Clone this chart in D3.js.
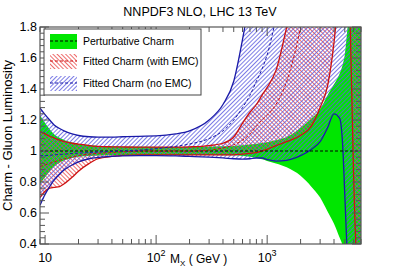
<!DOCTYPE html>
<html>
<head>
<style>
body { margin: 0; background: #fff; }
text { font-family: "Liberation Sans", Arial, sans-serif; fill: #000; }
.frame { fill: none; stroke: #555; stroke-width: 1.2px; }
.tick line { stroke: #555; stroke-width: 1px; }
</style>
<script src="https://d3js.org/d3.v7.min.js"></script>
</head>
<body>
<script>
// mass grid (GeV) and band values
var mass   = [9, 10, 11, 12, 13.5, 15, 17.5, 20, 25, 30, 40, 50, 70, 100, 150, 200, 300, 400, 500, 600, 700, 800, 900, 1000, 1200, 1500, 2000, 2500, 3000, 3500, 4000, 4500, 4800, 5000, 5300, 5600, 6000, 6500, 7000];
var pertLo = [0.79, 0.83, 0.87, 0.90, 0.925, 0.94, 0.955, 0.963, 0.968, 0.971, 0.973, 0.974, 0.974, 0.975, 0.975, 0.975, 0.974, 0.973, 0.972, 0.968, 0.963, 0.955, 0.946, 0.936, 0.92, 0.895, 0.84, 0.77, 0.70, 0.61, 0.53, 0.44, 0.39, 0.35, 0.3, 0.25, 0.2, 0.15, 0.1];
var pertCv = [1, 1, 1, 1, 1, 1, 1, 1, 1, 1, 1, 1, 1, 1, 1, 1, 1, 1, 1, 1, 1, 1, 1, 1, 1, 1, 1, 1, 1, 1, 1, 1, 1, 1, 1, 1, 1, 1, 1];
var pertHi = [1.23, 1.18, 1.14, 1.11, 1.085, 1.07, 1.055, 1.045, 1.038, 1.033, 1.03, 1.028, 1.027, 1.026, 1.026, 1.026, 1.027, 1.03, 1.033, 1.037, 1.042, 1.047, 1.052, 1.057, 1.07, 1.09, 1.15, 1.21, 1.27, 1.36, 1.43, 1.5, 1.56, 1.62, 1.8, 2.0, 2.2, 2.4, 2.6];

var emcLo  = [0.70, 0.74, 0.76, 0.765, 0.77, 0.79, 0.83, 0.87, 0.92, 0.95, 0.965, 0.972, 0.975, 0.975, 0.975, 0.975, 0.975, 0.975, 0.975, 0.98, 0.985, 0.99, 1.0, 1.01, 1.035, 1.06, 1.1, 1.16, 1.28, 1.42, 1.7, 2.1, 2.3, 2.4, 2.2, 1.8, 0.85, 0.2, 0.1];
var emcCv  = [0.9, 0.91, 0.92, 0.93, 0.94, 0.95, 0.96, 0.97, 0.98, 0.985, 0.99, 0.995, 1.0, 1.0, 1.0, 1.0, 1.005, 1.02, 1.04, 1.07, 1.11, 1.16, 1.2, 1.23, 1.3, 1.45, 1.8, 2.2, 2.6, 3, 3, 3, 3, 3, 3, 3, 3, 3, 3];
var emcHi  = [1.125, 1.11, 1.095, 1.085, 1.07, 1.06, 1.05, 1.045, 1.035, 1.03, 1.027, 1.026, 1.025, 1.025, 1.025, 1.027, 1.035, 1.05, 1.09, 1.18, 1.25, 1.3, 1.36, 1.41, 1.52, 1.8, 2.2, 2.6, 3, 3, 3, 3, 3, 3, 3, 3, 3, 3, 3];

var noemcLo = [0.65, 0.72, 0.77, 0.81, 0.85, 0.88, 0.91, 0.93, 0.95, 0.958, 0.965, 0.968, 0.97, 0.97, 0.968, 0.965, 0.96, 0.955, 0.95, 0.948, 0.95, 0.955, 0.955, 0.945, 0.935, 0.94, 0.97, 1.01, 1.06, 1.15, 1.24, 1.21, 1.02, 0.72, 0.3, 0.1, 0.1, 0.1, 0.1];
var noemcCv = [0.97, 0.97, 0.972, 0.975, 0.978, 0.98, 0.984, 0.986, 0.99, 0.993, 0.997, 1.0, 1.005, 1.015, 1.03, 1.045, 1.08, 1.13, 1.2, 1.28, 1.36, 1.45, 1.53, 1.62, 1.85, 2.1, 2.5, 3, 3, 3, 3, 3, 3, 3, 3, 3, 3, 3, 3];
var noemcHi = [1.277, 1.235, 1.2, 1.17, 1.145, 1.128, 1.11, 1.1, 1.092, 1.09, 1.09, 1.092, 1.095, 1.097, 1.11, 1.13, 1.2, 1.3, 1.45, 1.72, 2.0, 2.3, 2.6, 2.9, 3, 3, 3, 3, 3, 3, 3, 3, 3, 3, 3, 3, 3, 3, 3];

var yTicks = [0.4, 0.6, 0.8, 1, 1.2, 1.4, 1.6, 1.8];
var xMajor = [10, 100, 1000];
var legendLabels = ["Perturbative Charm", "Fitted Charm (with EMC)", "Fitted Charm (no EMC)"];

var W = 401, H = 272;
var margin = {top: 27, right: 40, bottom: 28, left: 40};
var width = W - margin.left - margin.right,
    height = H - margin.top - margin.bottom;

var x = d3.scaleLog().domain([9, 7000]).range([0, width]);
var y = d3.scaleLinear().domain([0.4, 1.8]).range([height, 0]);

var svg = d3.select("body").append("svg")
    .attr("width", W)
    .attr("height", H);

var defs = svg.append("defs");
defs.append("clipPath").attr("id", "clip")
  .append("rect").attr("width", width).attr("height", height);

function hatch(id, color, angle) {
  var p = defs.append("pattern")
      .attr("id", id)
      .attr("patternUnits", "userSpaceOnUse")
      .attr("width", 3).attr("height", 3)
      .attr("patternTransform", "rotate(" + angle + ")");
  p.append("line")
      .attr("x1", 0.5).attr("y1", 0).attr("x2", 0.5).attr("y2", 3)
      .attr("stroke", color).attr("stroke-width", 0.8);
}
hatch("hatchRed", "#ea4848", -45);
hatch("hatchBlue", "#5c5ce0", 45);

var g = svg.append("g")
    .attr("transform", "translate(" + margin.left + "," + margin.top + ")");

function band(lo, cv, hi) {
  return mass.map(function(m, i) { return {m: m, lo: lo[i], cv: cv[i], hi: hi[i]}; });
}
var pert = band(pertLo, pertCv, pertHi),
    emc = band(emcLo, emcCv, emcHi),
    noemc = band(noemcLo, noemcCv, noemcHi);

var area = d3.area()
    .curve(d3.curveMonotoneX)
    .x(function(d) { return x(d.m); })
    .y0(function(d) { return y(d.lo); })
    .y1(function(d) { return y(d.hi); });

function line(key) {
  return d3.line()
    .curve(d3.curveMonotoneX)
    .x(function(d) { return x(d.m); })
    .y(function(d) { return y(d[key]); });
}

var plot = g.append("g").attr("clip-path", "url(#clip)");

plot.append("path").datum(pert).attr("d", area).attr("fill", "#00e600");
plot.append("path").datum(emc).attr("d", area).attr("fill", "url(#hatchRed)");
plot.append("path").datum(noemc).attr("d", area).attr("fill", "url(#hatchBlue)");

// band edges
[[emc, "#cc1111"], [noemc, "#1a1aa8"]].forEach(function(b) {
  ["lo", "hi"].forEach(function(k) {
    plot.append("path").datum(b[0]).attr("d", line(k))
      .attr("fill", "none").attr("stroke", b[1]).attr("stroke-width", 1.3);
  });
});
// central values
[[pert, "#000"], [emc, "#cc1111"], [noemc, "#1a1aa8"]].forEach(function(b) {
  plot.append("path").datum(b[0]).attr("d", line("cv"))
    .attr("fill", "none").attr("stroke", b[1]).attr("stroke-width", 1)
    .attr("stroke-dasharray", "3,2");
});

// axes: ticks inward on all sides
var logTicks = [];
for (var e = 0; e < 4; e++) {
  for (var k = 1; k < 10; k++) {
    var v = k * Math.pow(10, e);
    if (v >= 9 && v <= 7000) logTicks.push(v);
  }
}
var yMinor = d3.range(0.44, 1.8, 0.04).filter(function(v) {
  return Math.abs(Math.round(v / 0.2) * 0.2 - v) > 0.001;
});

var xb = g.append("g").attr("class", "tick");
logTicks.forEach(function(v) {
  var len = xMajor.indexOf(v) >= 0 ? 9 : 5;
  xb.append("line").attr("x1", x(v)).attr("x2", x(v)).attr("y1", height).attr("y2", height - len);
  xb.append("line").attr("x1", x(v)).attr("x2", x(v)).attr("y1", 0).attr("y2", len);
});
yTicks.forEach(function(v) {
  xb.append("line").attr("x1", 0).attr("x2", 9).attr("y1", y(v)).attr("y2", y(v));
  xb.append("line").attr("x1", width).attr("x2", width - 9).attr("y1", y(v)).attr("y2", y(v));
});
yMinor.forEach(function(v) {
  xb.append("line").attr("x1", 0).attr("x2", 5).attr("y1", y(v)).attr("y2", y(v));
  xb.append("line").attr("x1", width).attr("x2", width - 5).attr("y1", y(v)).attr("y2", y(v));
});

g.append("rect").attr("class", "frame").attr("width", width).attr("height", height);

// tick labels
yTicks.forEach(function(v) {
  g.append("text")
    .attr("x", -3).attr("y", y(v)).attr("dy", "0.35em")
    .attr("text-anchor", "end").style("font-size", "12.5px")
    .text(v === 1 ? "1" : d3.format(".1f")(v));
});
xMajor.forEach(function(v) {
  var t = g.append("text")
    .attr("x", x(v)).attr("y", height + 18)
    .attr("text-anchor", "middle").style("font-size", "12.5px");
  t.append("tspan").text("10");
  var p = Math.round(Math.log10(v));
  if (p > 1) t.append("tspan").attr("dy", -6).style("font-size", "9px").text(p);
});

// axis titles
var xt = svg.append("text").attr("x", 170).attr("y", 263).style("font-size", "12px");
xt.append("tspan").text("M");
xt.append("tspan").attr("dy", 3).style("font-size", "8px").text("X");
xt.append("tspan").attr("dy", -3).text(" ( GeV )");

svg.append("text")
  .attr("transform", "translate(12," + (margin.top + height / 2) + ") rotate(-90)")
  .attr("text-anchor", "middle").style("font-size", "13px")
  .text("Charm - Gluon Luminosity");

svg.append("text")
  .attr("x", 200).attr("y", 16).attr("text-anchor", "middle")
  .style("font-size", "12.5px")
  .text("NNPDF3 NLO, LHC 13 TeV");

// legend
var lg = svg.append("g").attr("transform", "translate(44,29)");
lg.append("rect").attr("width", 157).attr("height", 66)
  .attr("fill", "#fff").attr("stroke", "#444").attr("stroke-width", 1);
var legFill = ["#00e600", "url(#hatchRed)", "url(#hatchBlue)"],
    legLine = ["#000", "#cc1111", "#1a1aa8"],
    legY = [12, 32, 54];
legendLabels.forEach(function(lab, i) {
  lg.append("rect").attr("x", 6).attr("y", legY[i] - 7).attr("width", 27).attr("height", 15)
    .attr("fill", legFill[i]);
  lg.append("line").attr("x1", 6).attr("x2", 33).attr("y1", legY[i]).attr("y2", legY[i])
    .attr("stroke", legLine[i]).attr("stroke-dasharray", "3,2");
  lg.append("text").attr("x", 39).attr("y", legY[i]).attr("dy", "0.35em")
    .style("font-size", "10.5px").text(lab);
});
</script>
</body>
</html>
